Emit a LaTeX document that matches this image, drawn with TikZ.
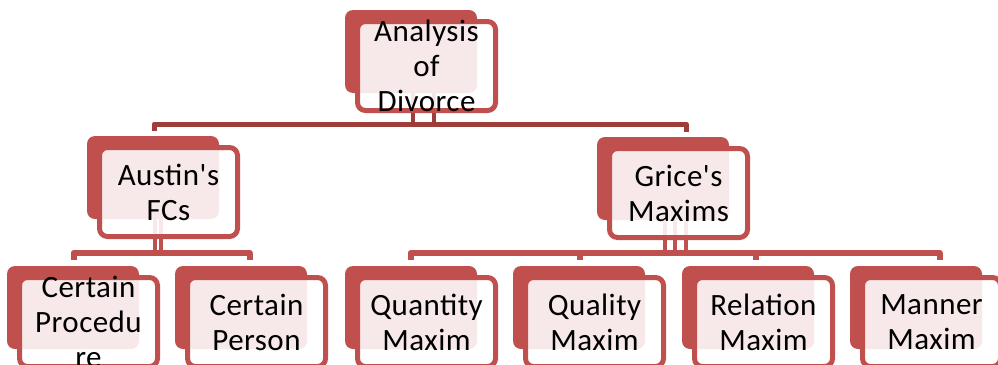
\documentclass[tikz,border=0pt]{standalone}
\usepackage{fontspec}
\newfontfamily\labelfont[LetterSpace=1.5]{Carlito}
\usetikzlibrary{calc}
\definecolor{boxred}{RGB}{192,80,77}
\definecolor{connred}{RGB}{158,62,59}
\pgfdeclarelayer{connlayer}
\pgfdeclarelayer{backlayer}
\pgfsetlayers{connlayer,backlayer,main}
\tikzset{
  backbox/.style={draw=none, fill=boxred, rounded corners=8pt, minimum width=132pt,
    minimum height=83pt, inner sep=0pt, outer sep=0pt, anchor=north west},
  frontbox/.style={draw=boxred, line width=5pt, fill=white, fill opacity=0.88,
    rounded corners=8pt, minimum width=138pt, minimum height=89pt, inner sep=0pt,
    outer sep=0pt, anchor=north west},
  boxlabel/.style={align=center, inner sep=0pt, text=black,
    font=\labelfont\fontsize{31}{35}\selectfont},
  lvlone/.style={draw=connred, line width=5pt, line join=round},
  lvltwo/.style={draw=boxred, line width=6pt, line join=round},
  stemone/.style={draw=connred, line width=4pt},
  stemtwo/.style={draw=boxred, line width=4pt},
}
\newcommand\dualbox[4]{%
  \begin{pgfonlayer}{backlayer}\node[backbox] (#1B) at (#2,#3) {};\end{pgfonlayer}
  \node[frontbox] (#1F) at (#2+12.5,#3+11.5) {};
  \node[boxlabel] (#1T) at (#1F.center) {#4};
}
\begin{document}
\begin{tikzpicture}[x=1pt,y=-1pt]
\useasboundingbox (0,0) rectangle (998,364);
\clip (0,0) rectangle (998,364);

\dualbox{top}{345}{10}{Analysis\\of\\Divorce}
\dualbox{austin}{87}{136}{Austin's\\FCs}
\dualbox{grice}{597}{137}{Grice's\\Maxims}
\dualbox{proc}{7}{266}{Certain\\Procedu\\re}
\dualbox{person}{175}{266}{Certain\\Person}
\dualbox{quant}{345}{266}{Quantity\\Maxim}
\dualbox{qual}{513}{266}{Quality\\Maxim}
\dualbox{rel}{682}{266}{Relation\\Maxim}
\dualbox{man}{850}{266}{Manner\\Maxim}

\coordinate (bus1) at (400,124);
\coordinate (bus2) at (150,253);
\coordinate (bus3) at (600,253);

\begin{pgfonlayer}{connlayer}
  % level 1
  \draw[lvlone] ([shift={(1,-5)}]austinB.north) |- (bus1) -| ([shift={(23,-5)}]griceB.north);
  \coordinate (s1) at ([xshift=2pt]topB.center);
  \coordinate (s2) at ([xshift=23pt]topB.center);
  \draw[stemone] (s1) -- (s1 |- bus1);
  \draw[stemone] (s2) -- (s2 |- bus1);
  % level 2 left
  \draw[lvltwo] ([shift={(0.5,-6)}]procB.north) |- (bus2) -| ([shift={(8.5,-6)}]personB.north);
  \coordinate (s3) at ([xshift=1.5pt]austinB.center);
  \coordinate (s4) at ([xshift=7.5pt]austinB.center);
  \draw[stemtwo] (s3) -- (s3 |- bus2);
  \draw[stemtwo] (s4) -- (s4 |- bus2);
  % level 2 right
  \draw[lvltwo] ([shift={(-0.5,-6)}]quantB.north) |- (bus3) -| ([shift={(23.5,-6)}]manB.north);
  \draw[lvltwo] ([shift={(0.5,-6)}]qualB.north) -- ++(0,-7);
  \draw[lvltwo] ([shift={(7.5,-6)}]relB.north) -- ++(0,-7);
  \coordinate (s5) at ([xshift=2pt]griceB.center);
  \coordinate (s6) at ([xshift=12pt]griceB.center);
  \coordinate (s7) at ([xshift=23pt]griceB.center);
  \draw[stemtwo] (s5) -- (s5 |- bus3);
  \draw[stemtwo] (s6) -- (s6 |- bus3);
  \draw[stemtwo] (s7) -- (s7 |- bus3);
\end{pgfonlayer}
\end{tikzpicture}
\end{document}
